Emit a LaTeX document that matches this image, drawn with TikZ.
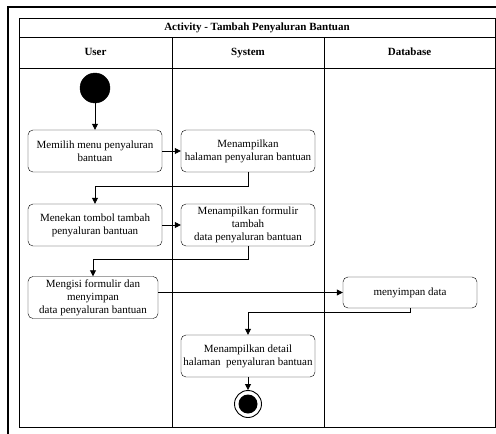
\documentclass[tikz,border=0pt]{standalone}
\usepackage{fontspec}
\setmainfont{Liberation Serif}
\usetikzlibrary{arrows.meta}
\tikzset{
    act/.style={draw,rounded corners=5pt,align=center,minimum width=134pt,minimum height=42pt,inner sep=1pt,font=\fontsize{11}{13}\selectfont},
    head/.style={font=\fontsize{11}{13}\selectfont\bfseries,text height=8pt,text depth=2.5pt},
    flow/.style={-{Triangle[length=6pt,width=6pt]},line width=0.8pt}
}
\begin{document}
\begin{tikzpicture}[x=1pt,y=-1pt]
        \useasboundingbox (0,0) rectangle (496,434);
        % outer frame
        \draw[line width=2pt] (8,434) |- (496,7);

        % swimlanes
        \draw[line width=0.9pt] (19,18) rectangle (495,427);
        \draw[line width=0.9pt] (19,37) -- (495,37);
        \draw[line width=0.9pt] (19,68) -- (495,68);
        \draw[line width=0.9pt] (172,37) -- (172,427);
        \draw[line width=0.9pt] (324,37) -- (324,427);
        \node[head] (title) at (257,27.5) {Activity - Tambah Penyaluran Bantuan};
        \node[head] (laneU) at (95.5,52.5) {User};
        \node[head] (laneS) at (248,52.5) {System};
        \node[head] (laneD) at (409.5,52.5) {Database};

        % start and end
        \node[circle,fill=black,draw,minimum size=30pt,inner sep=0pt] (start) at (95,88) {};
        \node[circle,draw,line width=0.9pt,minimum size=27pt,inner sep=0pt] (stop) at (248,404) {};
        \fill (stop) circle (9.5pt);

        % activities
        \node[act] (usr1) at (95,151) {Memilih menu penyaluran\\bantuan};
        \node[act] (sys1) at (248,151) {Menampilkan\\halaman penyaluran bantuan};
        \node[act] (usr2) at (95,225) {Menekan tombol tambah\\penyaluran bantuan};
        \node[act] (sys2) at (248,225) {Menampilkan formulir\\tambah\\data penyaluran bantuan};
        \node[act,minimum width=130pt] (usr3) at (93,297.5) {Mengisi formulir dan\\menyimpan\\data penyaluran bantuan};
        \node[act,minimum height=31pt] (db1) at (410,292.5) {menyimpan data};
        \node[act] (sys3) at (248,356) {Menampilkan detail\\halaman\ \ penyaluran bantuan};

        % flows
        \draw[flow] (start) -- (usr1);
        \draw[flow] (usr1) -- (sys1);
        \draw[flow] (sys1.south) -- ++(0,14) -| (usr2.north);
        \draw[flow] (usr2) -- (sys2);
        \draw[flow] (sys2.south) -- ++(0,13) -| (usr3.north);
        \draw[flow] (usr3.east |- db1.west) -- (db1.west);
        \draw[flow] (db1.south) -- ++(0,4) -| (sys3.north);
        \draw[flow] (sys3) -- (stop);
    \end{tikzpicture}
\end{document}
